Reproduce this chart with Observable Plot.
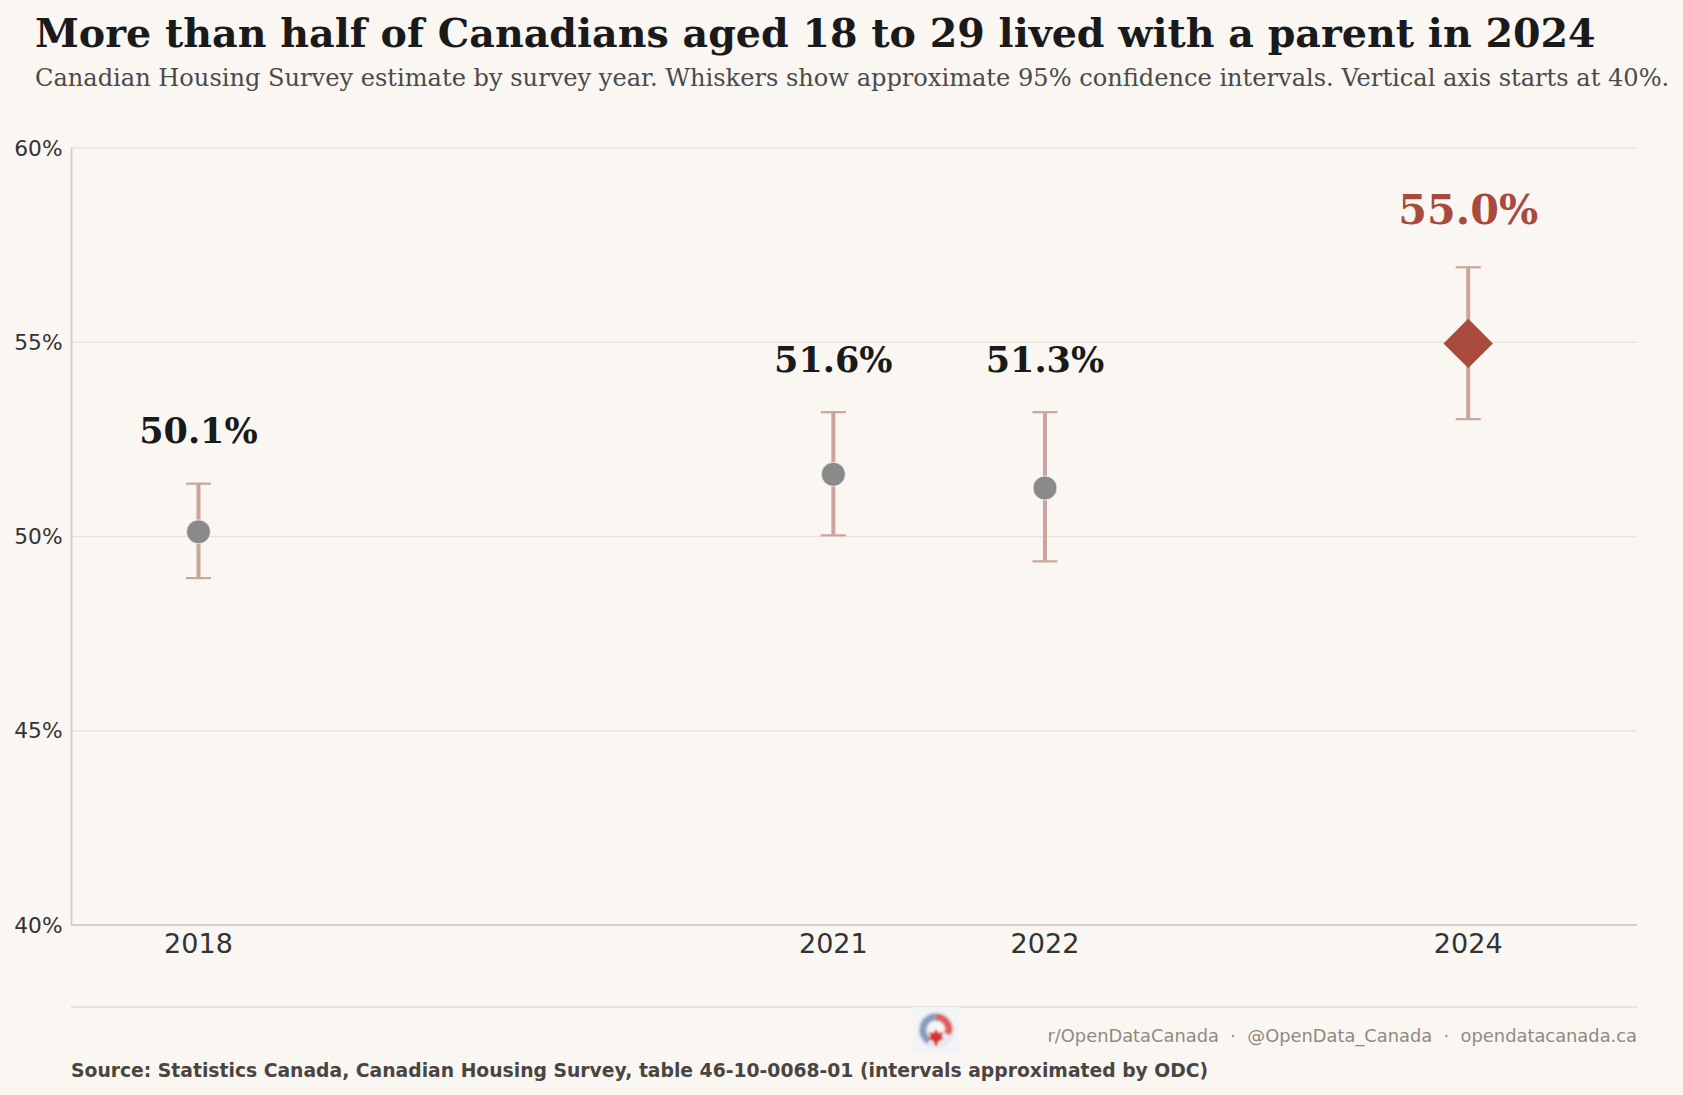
<!DOCTYPE html>
<html>
<head>
<meta charset="utf-8">
<script src="https://cdn.jsdelivr.net/npm/d3@7"></script>
<script src="https://cdn.jsdelivr.net/npm/@observablehq/plot@0.6"></script>
<style>
  html, body { margin: 0; padding: 0; background: #faf7f2; }
  #page { position: relative; width: 1683px; height: 1095px; overflow: hidden; background: #faf7f2; }
  #title, #subtitle, #credits, #source { position: absolute; white-space: pre; line-height: 1; }
  #title { left: 35px; top: 10px; font: bold 39.6px "DejaVu Serif"; color: #1a1a1a; }
  #subtitle { left: 35px; top: 64px; font: 24.1px "DejaVu Serif"; color: #4a4a4a; }
  #rule { position: absolute; left: 71px; top: 1006px; width: 1566px; height: 1.5px; background: #e8e4dc; }
  #logo { position: absolute; left: 913px; top: 1007px; }
  #credits { right: 46px; top: 1025px; font: 17.85px "DejaVu Sans"; color: #8f8a80; }
  #source { left: 71px; top: 1059.5px; font: bold 18.75px "DejaVu Sans"; color: #4a4540; }
  #chart { position: absolute; left: 0; top: 120px; }
  #chart svg { display: block; background: transparent; }
</style>
</head>
<body>
<div id="page">
  <div id="title">More than half of Canadians aged 18 to 29 lived with a parent in 2024</div>
  <div id="subtitle">Canadian Housing Survey estimate by survey year. Whiskers show approximate 95% confidence intervals. Vertical axis starts at 40%.</div>
  <div id="chart"></div>
  <div id="rule"></div>
  <svg id="logo" width="46" height="46" viewBox="0 0 46 46">
    <defs><filter id="soft" x="-20%" y="-20%" width="140%" height="140%"><feGaussianBlur stdDeviation="1.3"/></filter></defs>
    <rect width="46" height="46" fill="#f3f4f6"/>
    <g filter="url(#soft)" fill="none">
      <circle cx="23" cy="23" r="19" fill="#e6eaf0"/>
      <path d="M23 10 A13 13 0 0 0 16 34" stroke="#8a9fbc" stroke-width="7"/>
      <path d="M23 10 A13 13 0 0 1 36 23 L34 27" stroke="#e2615c" stroke-width="7"/>
      <circle cx="23" cy="23" r="8" fill="#f6f6f6"/>
      <path d="M23 22 L25.5 26 L30 25 L28.5 30 L31 31 L25 35 L24 39 L22 39 L21 35 L15 31 L17.5 30 L16 25 L20.5 26 Z" fill="#d8302e"/>
    </g>
  </svg>
  <div id="credits">r/OpenDataCanada  ·  @OpenData_Canada  ·  opendatacanada.ca</div>
  <div id="source">Source: Statistics Canada, Canadian Housing Survey, table 46-10-0068-01 (intervals approximated by ODC)</div>
</div>
<script>
const years = [2018, 2021, 2022, 2024];
const estimates = [50.12, 51.6, 51.25, 54.97];
const lows = [48.93, 50.03, 49.36, 53.02];
const highs = [51.36, 53.2, 53.2, 56.93];
const labels = ["50.1%", "51.6%", "51.3%", "55.0%"];
const yTicks = [40, 45, 50, 55, 60];
const xDomain = [2017.4, 2024.8];
const yDomain = [40, 60];

const rows = years.map((year, i) => ({year, value: estimates[i], low: lows[i], high: highs[i], label: labels[i]}));
const regular = rows.filter(d => d.year !== 2024);
const latest = rows.filter(d => d.year === 2024);

const capSymbol = {
  draw(context, size) {
    const r = Math.sqrt(size / Math.PI);
    context.moveTo(-r, 0);
    context.lineTo(r, 0);
  }
};

const whisker = "#cba49e", accent = "#a84a3c", grey = "#8a8a8a", ink = "#1a1a1a";

const plot = Plot.plot({
  width: 1683,
  height: 850,
  marginLeft: 71,
  marginRight: 46,
  marginTop: 27.5,
  marginBottom: 45.5,
  style: {background: "transparent", fontFamily: "DejaVu Sans"},
  x: {type: "linear", domain: xDomain},
  y: {domain: yDomain},
  marks: [
    Plot.gridY(yTicks, {stroke: "#e8e4dc", strokeOpacity: 1, strokeWidth: 1.3}),
    Plot.ruleX(xDomain.slice(0, 1), {stroke: "#cfcfcf", strokeWidth: 1.8}),
    Plot.ruleY(yDomain.slice(0, 1), {stroke: "#cfcfcf", strokeWidth: 1.8}),
    Plot.axisY(yTicks, {tickSize: 0, tickPadding: 9, dy: 0.7, tickFormat: d => d + "%", fontSize: 21.7, fill: "#333", label: null}),
    Plot.axisX(years, {tickSize: 0, tickPadding: 9, tickFormat: d => String(d), fontSize: 27, fill: "#333", label: null}),
    Plot.ruleX(rows, {x: "year", y1: "low", y2: "high", stroke: whisker, strokeWidth: 4}),
    Plot.dot(rows, {x: "year", y: "low", symbol: capSymbol, r: 12.5, fill: "none", stroke: whisker, strokeWidth: 2.2}),
    Plot.dot(rows, {x: "year", y: "high", symbol: capSymbol, r: 12.5, fill: "none", stroke: whisker, strokeWidth: 2.2}),
    Plot.dot(regular, {x: "year", y: "value", r: 12, fill: grey, stroke: "#faf7f2", strokeWidth: 0.8}),
    Plot.dot(latest, {x: "year", y: "value", symbol: "diamond2", r: 22.25, fill: accent}),
    Plot.text(regular, {x: "year", y: "high", text: "label", dy: -51.5, fontFamily: "DejaVu Serif", fontWeight: "bold", fontSize: 35, fill: ink}),
    Plot.text(latest, {x: "year", y: "high", text: "label", dy: -56.5, fontFamily: "DejaVu Serif", fontWeight: "bold", fontSize: 41.3, fill: accent})
  ]
});
document.getElementById("chart").append(plot);
</script>
</body>
</html>
